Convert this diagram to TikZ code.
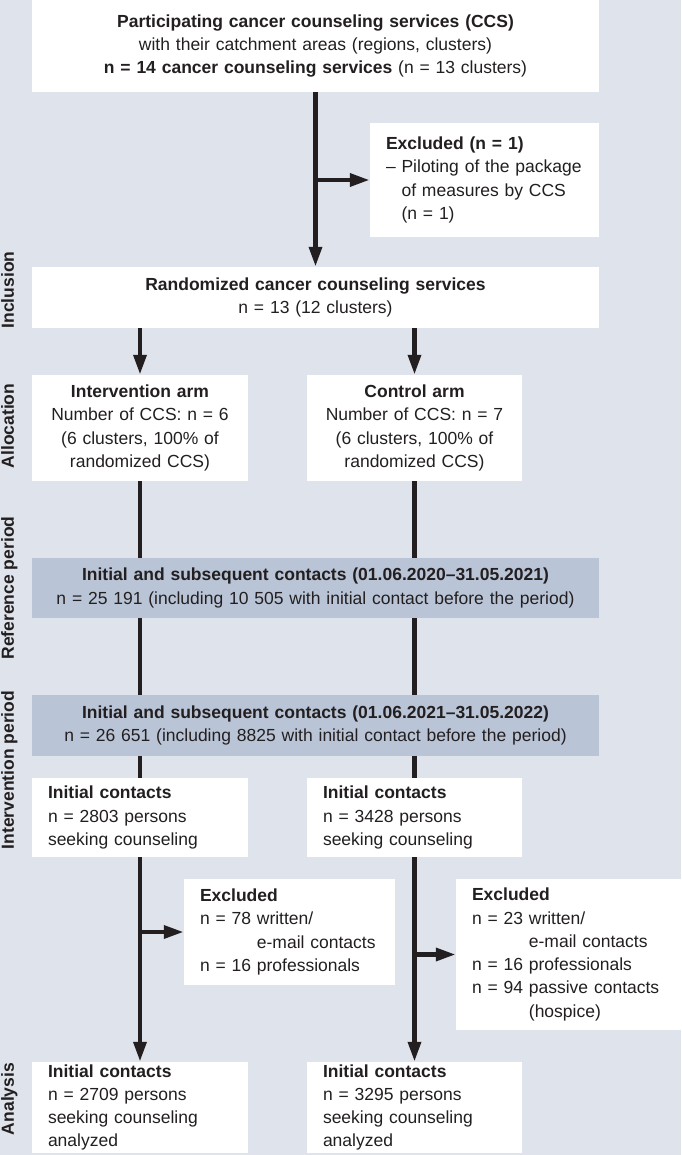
\documentclass[tikz,border=0pt]{standalone}
\usepackage{fontspec}
\setmainfont{Liberation Sans}
\usetikzlibrary{arrows.meta}
\definecolor{bgc}{RGB}{223,227,235}
\definecolor{greyc}{RGB}{185,197,214}
\definecolor{ink}{RGB}{35,31,32}
\tikzset{
  base/.style={inner xsep=16pt, inner ysep=0pt, text=ink,
    font=\fontsize{17.5}{23.3}\selectfont},
  wbox/.style={base, fill=white},
  gbox/.style={base, fill=greyc},
  conn/.style={draw=ink, line width=4.6pt},
  arr/.style={conn, -{Triangle[length=20pt,width=12.5pt]}},
  sidelabel/.style={rotate=90, inner sep=0pt, text=ink,
    font=\fontsize{17.5}{21}\selectfont\bfseries, text height=12.5pt, text depth=0pt},
}
\begin{document}
\begin{tikzpicture}[x=1pt,y=-1pt]
\fill[bgc] (0,0) rectangle (681,1155);
\useasboundingbox (0,0) rectangle (681,1155);

% boxes
\node[wbox, text width=535pt, align=center, minimum height=92pt] (top) at (315.5,46)
  {\textbf{Participating cancer counseling services (CCS)}\\
   with their catchment areas (regions, clusters)\\
   \textbf{n = 14 cancer counseling services} (n = 13 clusters)};
\node[wbox, text width=197pt, align=left, minimum height=114pt] (excl1) at (484.5,180)
  {\textbf{Excluded (n = 1)}\\
   – Piloting of the package\\
   \phantom{– }of measures by CCS\\
   \phantom{– }(n = 1)};
\node[wbox, text width=535pt, align=center, minimum height=61pt] (rand) at (315.5,297.5)
  {\textbf{Randomized cancer counseling services}\\
   n = 13 (12 clusters)};
\node[wbox, text width=184pt, align=center, minimum height=106pt] (intarm) at (140,428)
  {\textbf{Intervention arm}\\
   Number of CCS: n = 6\\
   (6 clusters, 100\% of\\
   randomized CCS)};
\node[wbox, text width=183pt, align=center, minimum height=106pt] (ctrl) at (414.5,428)
  {\textbf{Control arm}\\
   Number of CCS: n = 7\\
   (6 clusters, 100\% of\\
   randomized CCS)};
\node[gbox, text width=535pt, align=center, minimum height=60pt] (grey1) at (315.5,588)
  {\textbf{Initial and subsequent contacts (01.06.2020–31.05.2021)}\\
   n = 25~191 (including 10~505 with initial contact before the period)};
\node[gbox, text width=535pt, align=center, minimum height=61pt] (grey2) at (315.5,725.5)
  {\textbf{Initial and subsequent contacts (01.06.2021–31.05.2022)}\\
   n = 26~651 (including 8825 with initial contact before the period)};
\node[wbox, text width=184pt, align=left, minimum height=79pt] (ic1) at (140,817.5)
  {\textbf{Initial contacts}\\
   n = 2803 persons\\
   seeking counseling};
\node[wbox, text width=183pt, align=left, minimum height=79pt] (ic2) at (414.5,817.5)
  {\textbf{Initial contacts}\\
   n = 3428 persons\\
   seeking counseling};
\node[wbox, text width=179pt, align=left, minimum height=106pt] (exc2) at (289.5,932)
  {\textbf{Excluded}\\
   n = 78 written/\\
   \phantom{n = 78 }e-mail contacts\\
   n = 16 professionals};
\node[wbox, text width=193pt, align=left, minimum height=151pt] (exc3) at (568.5,954.5)
  {\textbf{Excluded}\\
   n = 23 written/\\
   \phantom{n = 23 }e-mail contacts\\
   n = 16 professionals\\
   n = 94 passive contacts\\
   \phantom{n = 94 }(hospice)};
\node[wbox, text width=184pt, align=left, minimum height=91pt] (bot1) at (140,1107.5)
  {\textbf{Initial contacts}\\
   n = 2709 persons\\
   seeking counseling\\
   analyzed};
\node[wbox, text width=183pt, align=left, minimum height=91pt] (bot2) at (414.5,1107.5)
  {\textbf{Initial contacts}\\
   n = 3295 persons\\
   seeking counseling\\
   analyzed};

% side labels
\node[sidelabel] (lincl) at (7.5,290) {Inclusion};
\node[sidelabel] (lalloc) at (7.5,426) {Allocation};
\node[sidelabel] (lref) at (7.5,588) {Reference period};
\node[sidelabel] (lint) at (7.5,770) {Intervention period};
\node[sidelabel] (lana) at (7.5,1099) {Analysis};

% connectors
\draw[arr] (top) -- (rand);
\draw[arr] (top.south |- excl1.west) -- (excl1.west);
\draw[arr] (rand.south -| intarm.north) -- (intarm.north);
\draw[arr] (rand.south -| ctrl.north) -- (ctrl.north);
\draw[conn] (intarm.south) -- (intarm.south |- grey1.north);
\draw[conn] (ctrl.south) -- (ctrl.south |- grey1.north);
\draw[conn] (grey1.south -| intarm.south) -- (grey2.north -| intarm.south);
\draw[conn] (grey1.south -| ctrl.south) -- (grey2.north -| ctrl.south);
\draw[conn] (grey2.south -| ic1.north) -- (ic1.north);
\draw[conn] (grey2.south -| ic2.north) -- (ic2.north);
\draw[arr] (ic1.south) -- (bot1.north);
\draw[arr] (ic2.south) -- (bot2.north);
\draw[arr] (ic1.south |- exc2.west) -- (exc2.west);
\draw[arr] (ic2.south |- exc3.west) -- (exc3.west);
\end{tikzpicture}
\end{document}
